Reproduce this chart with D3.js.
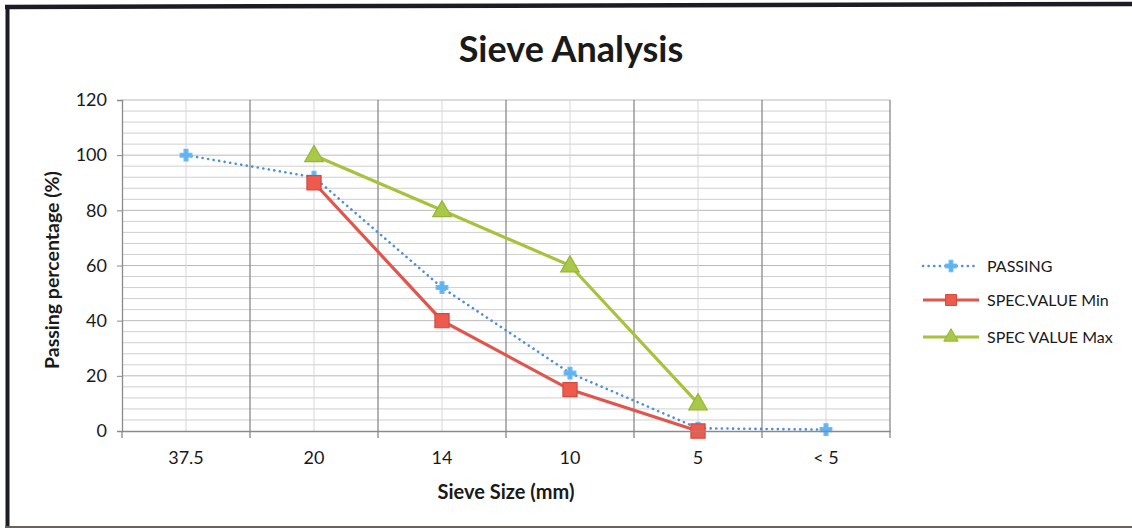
<!DOCTYPE html>
<html>
<head>
<meta charset="utf-8">
<script src="https://cdn.jsdelivr.net/npm/d3@7"></script>
<style>
  html, body { margin: 0; padding: 0; background: #fff; }
  svg { display: block; }
  text { font-family: Lato, "Open Sans", "DejaVu Sans", sans-serif; fill: #1a1a1a; }
</style>
</head>
<body>
<svg id="chart" width="1132" height="528"></svg>
<script>
// Sieve sizes (mm) and grading results
const sieveSizes = ["37.5", "20", "14", "10", "5", "< 5"];
const passing    = [100, 92, 52, 21, 1, 0.5];
const specMin    = [null, 90, 40, 15, 0, null];
const specMax    = [null, 100, 80, 60, 10, null];
const yTicks     = [0, 20, 40, 60, 80, 100, 120];
const seriesNames = ["PASSING", "SPEC.VALUE Min", "SPEC VALUE Max"];

const svg = d3.select("#chart");
const W = 1132, H = 528;
const plot = { left: 122, right: 890, top: 100, bottom: 431 };

// page frame
svg.append("rect").attr("x", 0).attr("y", 0).attr("width", W).attr("height", H).attr("fill", "#fff");
svg.append("line").attr("x1", 5).attr("x2", W).attr("y1", 7).attr("y2", 4)
  .attr("stroke", "#1c1c22").attr("stroke-width", 4.5);
svg.append("line").attr("x1", 7.5).attr("x2", 7.5).attr("y1", 5).attr("y2", H)
  .attr("stroke", "#1c1c22").attr("stroke-width", 4);
svg.append("line").attr("x1", 5).attr("x2", W).attr("y1", 527).attr("y2", 527)
  .attr("stroke", "#6a6258").attr("stroke-width", 2);

const x = d3.scaleBand().domain(sieveSizes).range([plot.left, plot.right]);
const y = d3.scaleLinear().domain([0, 120]).range([plot.bottom, plot.top]);
const cx = d => x(d) + x.bandwidth() / 2;

const g = svg.append("g");

// horizontal minor gridlines every 4 %
const minor = d3.range(4, 121, 4);
g.append("g").selectAll("line").data(minor).join("line")
  .attr("x1", plot.left).attr("x2", plot.right)
  .attr("y1", d => y(d)).attr("y2", d => y(d))
  .attr("stroke", d => d % 20 === 0 ? "#b9b9b9" : "#cfcfcf").attr("stroke-width", 1);

// vertical gridlines: light at category centres, darker at boundaries
g.append("g").selectAll("line").data(sieveSizes).join("line")
  .attr("x1", d => cx(d)).attr("x2", d => cx(d))
  .attr("y1", plot.top).attr("y2", plot.bottom)
  .attr("stroke", "#d6d6de").attr("stroke-width", 1);
g.append("g").selectAll("line").data(sieveSizes.slice(1).concat([null])).join("line")
  .attr("x1", (d, i) => i < sieveSizes.length - 1 ? x(d) : plot.right)
  .attr("x2", (d, i) => i < sieveSizes.length - 1 ? x(d) : plot.right)
  .attr("y1", plot.top).attr("y2", plot.bottom + 7)
  .attr("stroke", "#8a8a8a").attr("stroke-width", 1.3);

// y axis
const yAxis = d3.axisLeft(y).tickValues(yTicks).tickSize(5).tickPadding(10);
const ya = svg.append("g").attr("transform", `translate(${plot.left},0)`).call(yAxis);
ya.select(".domain").attr("stroke", "#8a8a8a").attr("stroke-width", 1.3);
ya.selectAll(".tick line").attr("stroke", "#8a8a8a");
ya.selectAll("text").style("font-size", "18px").attr("fill", "#1a1a1a")
  .style("font-family", "Lato, 'Open Sans', sans-serif");

// x axis
const xAxis = d3.axisBottom(x).tickSize(0).tickPadding(20);
const xa = svg.append("g").attr("transform", `translate(0,${plot.bottom})`).call(xAxis);
xa.select(".domain").attr("stroke", "#8a8a8a").attr("stroke-width", 1.3);
xa.selectAll("text").style("font-size", "18px").attr("fill", "#1a1a1a")
  .style("font-family", "Lato, 'Open Sans', sans-serif");
svg.append("line").attr("x1", plot.left).attr("x2", plot.left)
  .attr("y1", plot.bottom).attr("y2", plot.bottom + 7).attr("stroke", "#8a8a8a").attr("stroke-width", 1.3);

// titles
svg.append("text").attr("x", 571).attr("y", 62).attr("text-anchor", "middle")
  .style("font-size", "36px").style("font-weight", "bold").text("Sieve Analysis");
svg.append("text").attr("x", 506).attr("y", 499).attr("text-anchor", "middle")
  .style("font-size", "20px").style("font-weight", "bold").text("Sieve Size (mm)");
svg.append("text").attr("transform", "translate(59,270) rotate(-90)").attr("text-anchor", "middle")
  .style("font-size", "19.5px").style("font-weight", "bold").text("Passing percentage (%)");

// series
const C_BLUE_LINE = "#4f8fd6", C_BLUE = "#5fb3f2", C_RED = "#e0554c", C_GREEN = "#a7c23c";
const line = d3.line().defined(d => d.v != null).x(d => cx(d.k)).y(d => y(d.v));
const pts = arr => sieveSizes.map((k, i) => ({ k, v: arr[i] }));

const cross = d3.symbol().type(d3.symbolCross).size(75);
const square = d3.symbol().type(d3.symbolSquare).size(200);
const tri = d3.symbol().type(d3.symbolTriangle).size(150);

function drawSeries(arr, opts) {
  const data = pts(arr);
  g.append("path").datum(data).attr("d", line).attr("fill", "none")
    .attr("stroke", opts.line).attr("stroke-width", opts.width)
    .attr("stroke-dasharray", opts.dash || null).attr("stroke-linecap", opts.dash ? "round" : "butt");
  g.append("g").selectAll("path").data(data.filter(d => d.v != null)).join("path")
    .attr("transform", d => `translate(${cx(d.k)},${y(d.v) + (opts.dy || 0)})`)
    .attr("d", opts.symbol).attr("fill", opts.fill).attr("stroke", opts.stroke).attr("stroke-width", 1.2);
}

drawSeries(passing, { line: C_BLUE_LINE, width: 2.6, dash: "0.1,5.5", symbol: cross, fill: C_BLUE, stroke: "#6fbaf0" });
drawSeries(specMin, { line: C_RED, width: 3.2, symbol: square, fill: "#ec5b4e", stroke: "#d44a40" });
drawSeries(specMax, { line: C_GREEN, width: 3.2, symbol: tri, fill: "#a9c84a", stroke: "#98b531", dy: 1 });

// legend
const legend = svg.append("g");
const rows = [
  { name: seriesNames[0], y: 266, line: C_BLUE_LINE, width: 2.6, dash: "0.1,5.5", symbol: cross, fill: C_BLUE, stroke: "#6fbaf0" },
  { name: seriesNames[1], y: 300, line: C_RED, width: 3.2, symbol: d3.symbol().type(d3.symbolSquare).size(120), fill: "#ec5b4e", stroke: "#d44a40" },
  { name: seriesNames[2], y: 337, line: C_GREEN, width: 3.2, symbol: d3.symbol().type(d3.symbolTriangle).size(90), fill: "#a9c84a", stroke: "#98b531" }
];
rows.forEach(r => {
  legend.append("line").attr("x1", 923).attr("x2", 979).attr("y1", r.y).attr("y2", r.y)
    .attr("stroke", r.line).attr("stroke-width", r.width)
    .attr("stroke-dasharray", r.dash || null).attr("stroke-linecap", r.dash ? "round" : "butt");
  legend.append("path").attr("transform", `translate(951,${r.y})`).attr("d", r.symbol)
    .attr("fill", r.fill).attr("stroke", r.stroke);
  legend.append("text").attr("x", 987).attr("y", r.y).attr("dy", "0.35em")
    .style("font-size", "16px").text(r.name);
});
</script>
</body>
</html>
